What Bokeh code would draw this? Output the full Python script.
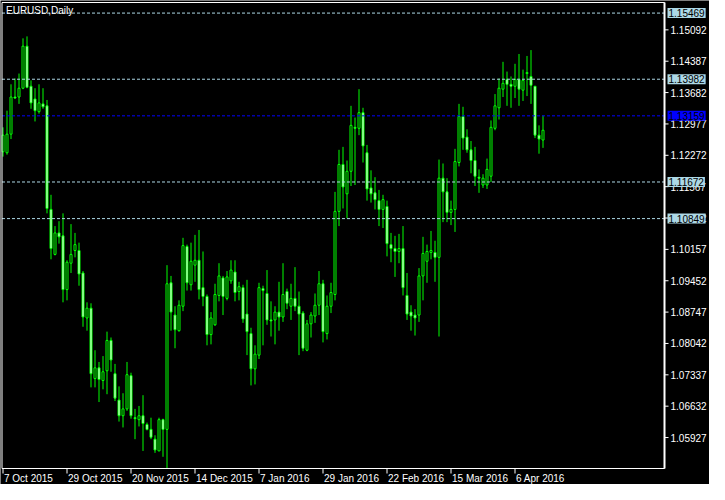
from bokeh.plotting import figure
from bokeh.models import Range1d, Label, ColumnDataSource
from bokeh.core.properties import value
from bokeh.embed import file_html
from bokeh.resources import INLINE

chart_title = "EURUSD,Daily"

opens = [
    1.12351, 1.12329, 1.12747, 1.13582, 1.13582, 1.13780, 1.14725, 1.13824, 1.13538, 1.13253,
    1.13428, 1.13384, 1.11055, 1.10044, 1.10527, 1.10461, 1.09253, 1.09846, 1.10132, 1.10132,
    1.09626, 1.08615, 1.08835, 1.07253, 1.07494, 1.07209, 1.07428, 1.08110, 1.07362, 1.06769,
    1.06417, 1.06571, 1.07318, 1.06373, 1.06329, 1.06417, 1.06220, 1.06110, 1.05890, 1.05626,
    1.06329, 1.06110, 1.09406, 1.08681, 1.08329, 1.08879, 1.10220, 1.09362, 1.09802, 1.09912,
    1.09297, 1.09099, 1.08242, 1.08461, 1.09121, 1.09516, 1.09055, 1.09450, 1.09648, 1.09209,
    1.09297, 1.08703, 1.08264, 1.07472, 1.07780, 1.09275, 1.09165, 1.08571, 1.08571, 1.08747,
    1.08637, 1.09209, 1.08879, 1.09055, 1.08879, 1.08725, 1.07890, 1.08483, 1.08659, 1.08901,
    1.09384, 1.08264, 1.08879, 1.09143, 1.11011, 1.12066, 1.11406, 1.11912, 1.12901, 1.12879,
    1.13231, 1.12329, 1.11538, 1.11428, 1.11253, 1.11055, 1.11121, 1.10264, 1.10176, 1.10110,
    1.10176, 1.09121, 1.08747, 1.08681, 1.08681, 1.09560, 1.09890, 1.10088, 1.10088, 1.09978,
    1.11758, 1.11450, 1.10989, 1.11055, 1.12110, 1.13143, 1.12681, 1.12395, 1.12154, 1.11780,
    1.11604, 1.11604, 1.11802, 1.12879, 1.13340, 1.13758, 1.13978, 1.13868, 1.13824, 1.13978,
    1.13736, 1.14110, 1.14044, 1.13824, 1.12725, 1.12615]

highs = [
    1.12901, 1.13275, 1.13868, 1.14000, 1.14110, 1.14901, 1.14945, 1.13956, 1.13780, 1.13868,
    1.13780, 1.13516, 1.11384, 1.10681, 1.10791, 1.10967, 1.09912, 1.10725, 1.10527, 1.10308,
    1.09670, 1.08967, 1.08945, 1.07890, 1.07626, 1.07758, 1.08308, 1.08176, 1.07582, 1.07077,
    1.06923, 1.07626, 1.07384, 1.06571, 1.06637, 1.06879, 1.06264, 1.06373, 1.05978, 1.06373,
    1.06351, 1.09802, 1.09560, 1.08879, 1.09011, 1.10417, 1.10264, 1.10308, 1.10483, 1.10593,
    1.10110, 1.09143, 1.08747, 1.09384, 1.09846, 1.09560, 1.09670, 1.09912, 1.09912, 1.09428,
    1.09362, 1.09472, 1.08395, 1.08000, 1.09406, 1.09340, 1.09692, 1.08989, 1.08879, 1.09428,
    1.09846, 1.09275, 1.09384, 1.09758, 1.09209, 1.08769, 1.08571, 1.08747, 1.09165, 1.09670,
    1.09472, 1.09121, 1.09406, 1.11450, 1.12395, 1.12461, 1.12154, 1.13384, 1.13121, 1.13758,
    1.13340, 1.12505, 1.11934, 1.11780, 1.11494, 1.11384, 1.11253, 1.10527, 1.10461, 1.10505,
    1.10681, 1.09626, 1.08901, 1.08813, 1.09736, 1.10439, 1.10264, 1.10571, 1.10351, 1.12176,
    1.12088, 1.11758, 1.11253, 1.12417, 1.13428, 1.13362, 1.12857, 1.12593, 1.12461, 1.11956,
    1.11846, 1.12198, 1.13055, 1.13648, 1.14000, 1.14373, 1.14154, 1.14044, 1.14329, 1.14549,
    1.14198, 1.14505, 1.14637, 1.13824, 1.12945, 1.13165]

lows = [
    1.12242, 1.12286, 1.12637, 1.13538, 1.13428, 1.13758, 1.13780, 1.13318, 1.13033, 1.13209,
    1.13318, 1.10967, 1.09934, 1.10022, 1.10286, 1.08967, 1.09011, 1.09626, 1.09978, 1.09340,
    1.08417, 1.08329, 1.07055, 1.07055, 1.06725, 1.07011, 1.06901, 1.07406, 1.06747, 1.06286,
    1.06154, 1.06527, 1.06351, 1.05890, 1.06176, 1.05626, 1.06088, 1.05890, 1.05582, 1.05626,
    1.05494, 1.05231, 1.08329, 1.07934, 1.08308, 1.08769, 1.09231, 1.09231, 1.09428, 1.09033,
    1.08879, 1.08000, 1.08022, 1.08439, 1.08989, 1.08681, 1.09011, 1.09384, 1.08989, 1.09011,
    1.08505, 1.07780, 1.07099, 1.07121, 1.07692, 1.08000, 1.08461, 1.08198, 1.08022, 1.08329,
    1.08527, 1.08813, 1.08571, 1.08769, 1.07780, 1.07868, 1.07868, 1.08176, 1.08505, 1.08681,
    1.08066, 1.08132, 1.08725, 1.09011, 1.10681, 1.11077, 1.10857, 1.11582, 1.11604, 1.12725,
    1.12110, 1.11253, 1.11209, 1.11055, 1.10681, 1.10637, 1.10000, 1.09868, 1.09538, 1.09846,
    1.09121, 1.08571, 1.08329, 1.08220, 1.08527, 1.09011, 1.09406, 1.09934, 1.09428, 1.08198,
    1.10769, 1.10769, 1.10703, 1.10549, 1.12022, 1.12395, 1.12329, 1.11868, 1.11582, 1.11428,
    1.11538, 1.11516, 1.11670, 1.12835, 1.13077, 1.13582, 1.13384, 1.13340, 1.13560, 1.13384,
    1.13494, 1.13604, 1.13428, 1.12659, 1.12308, 1.12439]

closes = [
    1.12725, 1.12747, 1.13582, 1.13560, 1.13780, 1.14725, 1.13802, 1.13450, 1.13275, 1.13450,
    1.13362, 1.11077, 1.10176, 1.10527, 1.10439, 1.09253, 1.09868, 1.10044, 1.10264, 1.09604,
    1.08637, 1.08835, 1.07362, 1.07494, 1.07231, 1.07406, 1.08110, 1.07670, 1.06813, 1.06417,
    1.06571, 1.07340, 1.06417, 1.06351, 1.06417, 1.06242, 1.06110, 1.05934, 1.05648, 1.06329,
    1.06110, 1.09384, 1.08747, 1.08351, 1.08901, 1.10242, 1.09406, 1.09890, 1.09912, 1.09253,
    1.09099, 1.08242, 1.08615, 1.09143, 1.09560, 1.09099, 1.09538, 1.09692, 1.09187, 1.09318,
    1.08593, 1.08308, 1.07472, 1.07802, 1.09297, 1.09231, 1.08571, 1.08549, 1.08747, 1.08637,
    1.09143, 1.08945, 1.09055, 1.08879, 1.08703, 1.07934, 1.08483, 1.08681, 1.08901, 1.09384,
    1.08308, 1.08879, 1.09187, 1.11011, 1.12066, 1.11560, 1.11912, 1.12945, 1.12879, 1.13231,
    1.12483, 1.11516, 1.11406, 1.11275, 1.11055, 1.11275, 1.10286, 1.10176, 1.10110, 1.10176,
    1.09297, 1.08703, 1.08659, 1.08615, 1.09560, 1.10066, 1.10110, 1.10132, 1.09978, 1.11758,
    1.11450, 1.10989, 1.11055, 1.12132, 1.13143, 1.12659, 1.12395, 1.12154, 1.11802, 1.11758,
    1.11758, 1.11956, 1.12901, 1.13384, 1.13780, 1.13890, 1.13868, 1.13824, 1.13978, 1.13758,
    1.13956, 1.14132, 1.13846, 1.12725, 1.12637, 1.12835]

date_tick_bars = [0, 16, 32, 48, 64, 80, 96, 112, 128]
date_tick_labels = ["7 Oct 2015", "29 Oct 2015", "20 Nov 2015", "14 Dec 2015", "7 Jan 2016",
                    "29 Jan 2016", "22 Feb 2016", "15 Mar 2016", "6 Apr 2016"]

price_ticks = [1.05927, 1.06632, 1.07337, 1.08042, 1.08747, 1.09452, 1.10157,
               1.10862, 1.11567, 1.12272, 1.12977, 1.13682, 1.14387, 1.15092]

level_prices = [1.15469, 1.13982, 1.11672, 1.10849]
bid_price = 1.13159

chart_bottom, chart_top = 1.05231, 1.15707   # visible price window of the chart

FONT = "Liberation Sans"
FS = "10px"
GREEN = "#00FF00"
LEVEL_COLOR = "#ADD8E6"
BID_COLOR = "#0000FF"

# ---- layout (screen pixels -> data units) ----
W, H = 709, 484
PX_PER_BAR = 4.0
x_start = -2.5 / PX_PER_BAR
x_end = x_start + W / PX_PER_BAR
cx0 = x_start + 1.5 / PX_PER_BAR        # left border of the chart window
cx1 = x_start + 664 / PX_PER_BAR        # right border (price scale line)
PX_PER_PRICE = 466 / (chart_top - chart_bottom)
y_end = chart_top + 2 / PX_PER_PRICE
y_start = chart_bottom - 16 / PX_PER_PRICE

n = len(opens)
bars = list(range(n))
body_top = [max(o, c) for o, c in zip(opens, closes)]
body_bottom = [min(o, c) for o, c in zip(opens, closes)]
body_fill = ["black" if c > o else "white" for o, c in zip(opens, closes)]

src = ColumnDataSource(dict(x=bars, o=opens, h=highs, l=lows, c=closes,
                            top=body_top, bottom=body_bottom, fill=body_fill))

p = figure(width=W, height=H, output_backend="svg", toolbar_location=None,
           x_range=Range1d(x_start, x_end), y_range=Range1d(y_start, y_end),
           x_axis_location=None, y_axis_location=None, min_border=0,
           background_fill_color="black", border_fill_color="black",
           outline_line_color=None)
p.grid.visible = False

# candles
p.segment(x0="x", y0="l", x1="x", y1="h", source=src, line_color=GREEN, line_width=1)
p.vbar(x="x", width=0.5, top="top", bottom="bottom", source=src,
       fill_color="fill", line_color=GREEN, line_width=1)

# horizontal level lines across the chart window
p.segment(x0=[cx0] * len(level_prices), x1=[cx1] * len(level_prices),
          y0=level_prices, y1=level_prices, line_color=LEVEL_COLOR, line_dash="3 2", line_width=1)
p.segment(x0=[cx0], x1=[cx1], y0=[bid_price], y1=[bid_price],
          line_color=BID_COLOR, line_dash="3 2", line_width=1)

# chart window border
p.quad(left=[cx0], right=[cx1], bottom=[chart_bottom], top=[chart_top],
       fill_color=None, line_color="white", line_width=1)
p.segment(x0=[cx1], x1=[cx1], y0=[chart_bottom], y1=[chart_top], line_color="white", line_width=2)

# price scale: ticks and labels
tick_len_x = 4 / PX_PER_BAR
p.segment(x0=[cx1] * len(price_ticks), x1=[cx1 + tick_len_x] * len(price_ticks),
          y0=price_ticks, y1=price_ticks, line_color="white", line_width=1)
p.text(x=[cx1] * len(price_ticks), y=price_ticks, text=[f"{t:.5f}" for t in price_ticks],
       x_offset=6, text_align="left", text_baseline="middle", text_color="white",
       text_font=value(FONT), text_font_size=value(FS))

# time scale: ticks and labels (left-aligned at the tick)
tick_len_y = 5 / PX_PER_PRICE
p.segment(x0=date_tick_bars, x1=date_tick_bars, y0=[chart_bottom] * len(date_tick_bars),
          y1=[chart_bottom - tick_len_y] * len(date_tick_bars), line_color="white", line_width=1)
p.text(x=date_tick_bars, y=[chart_bottom - 4 / PX_PER_PRICE] * len(date_tick_bars),
       text=date_tick_labels, x_offset=1, text_align="left", text_baseline="top",
       text_color="white", text_font=value(FONT), text_font_size=value(FS))

# level price tags on the price scale
for lv in level_prices:
    p.add_layout(Label(x=cx1, y=lv, x_offset=3, text=f"{lv:.5f}", text_align="left",
                       text_baseline="middle", text_color="black", text_font=FONT,
                       text_font_size=FS, background_fill_color=LEVEL_COLOR, padding=1))
p.add_layout(Label(x=cx1, y=bid_price, x_offset=3, text=f"{bid_price:.5f}", text_align="left",
                   text_baseline="middle", text_color="black", text_font=FONT,
                   text_font_size=FS, background_fill_color=BID_COLOR, padding=1))

# chart title in the top-left corner
p.add_layout(Label(x=cx0, y=chart_top, x_offset=4, y_offset=-2, text=chart_title,
                   text_align="left", text_baseline="top", text_color="white",
                   text_font=FONT, text_font_size=FS))

open("out.html", "w").write(file_html(p, INLINE))
